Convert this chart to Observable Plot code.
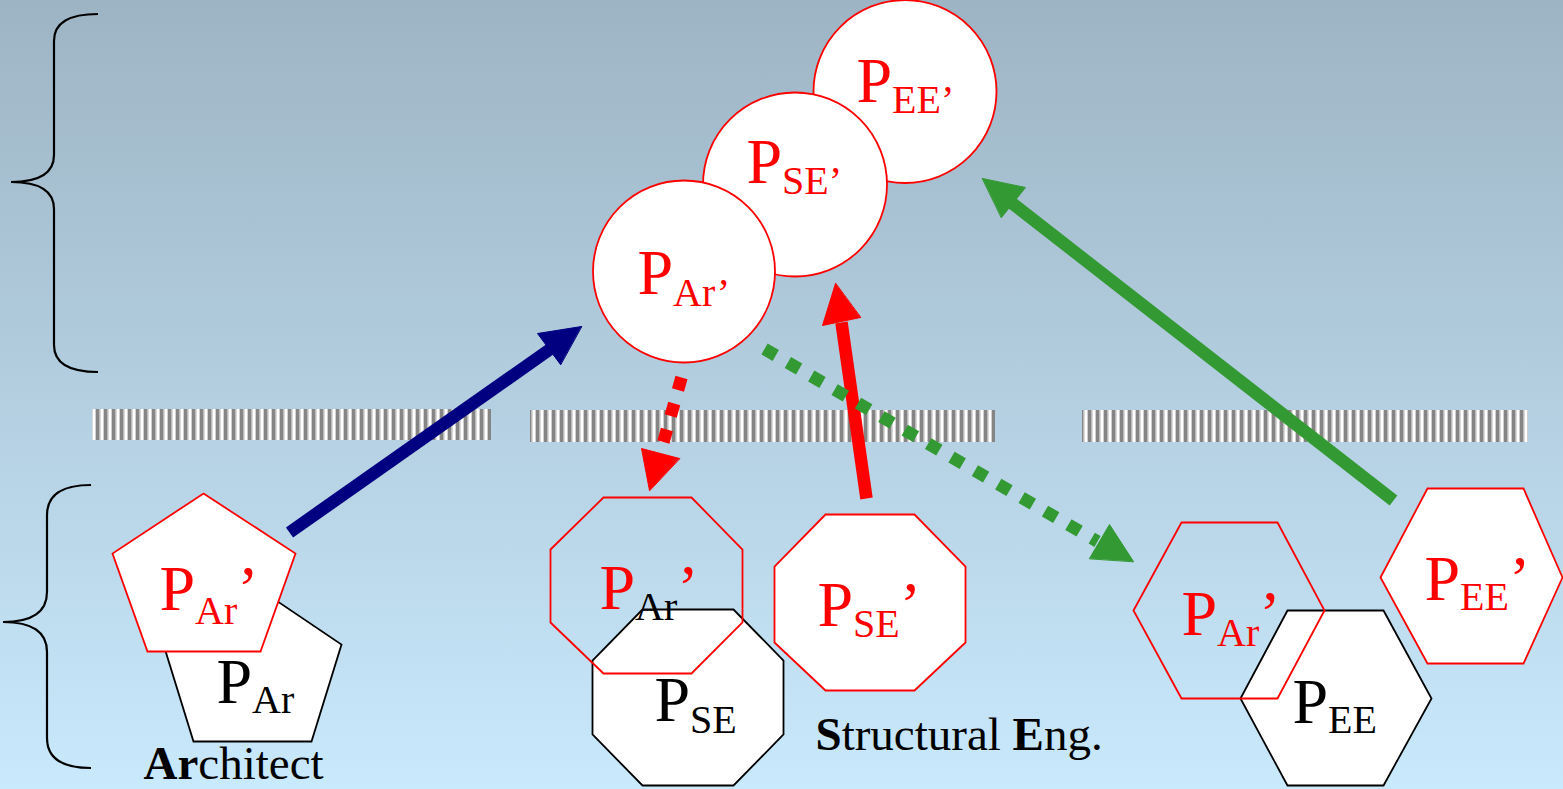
<!DOCTYPE html>
<html><head><meta charset="utf-8">
<script src="https://cdn.jsdelivr.net/npm/d3@7"></script>
<script src="https://cdn.jsdelivr.net/npm/@observablehq/plot@0.6"></script>
<style>html,body{margin:0;padding:0;overflow:hidden;background:#c9e9fc}#chart svg{display:block}</style>
</head><body><div id="chart"></div>
<script>
const W = 1563, H = 789;
const NAVY = "#000080", RED = "#ff0000", GREEN = "#339933";

// striped separator bars
const bars = [
  {x1: 92, x2: 491, y1: 409, y2: 440},
  {x1: 530, x2: 995, y1: 410, y2: 442},
  {x1: 1082, x2: 1528, y1: 410, y2: 442}
];

// upper-level circles (drawn back to front)
const circles = [
  {name: "PEE'", x: 904.5, y: 91, r: 91.5},
  {name: "PSE'", x: 794.5, y: 184, r: 92},
  {name: "PAr'", x: 683.5, y: 271, r: 91}
];

// lower-level polygons (drawn back to front)
const shapes = [
  {id: "pentBlack", stroke: "black", fill: "white", pts: [[252,584],[341,644],[311,741],[193,741],[163,644]]},
  {id: "pentRed", stroke: RED, fill: "white", pts: [[203,493],[295,553],[260,651],[147,651],[112,553]]},
  {id: "octBlack", stroke: "black", fill: "white", pts: [[642,609],[733,609],[783,660],[783,734],[733,785],[642,785],[592,734],[592,660]]},
  {id: "octRedAr", stroke: RED, fill: "none", pts: [[603,497],[691,497],[742,549],[742,622],[691,673],[603,673],[550,622],[550,549]]},
  {id: "octRedSE", stroke: RED, fill: "white", pts: [[825,514],[914,514],[965,566],[965,642],[914,690],[825,690],[774,642],[774,566]]},
  {id: "hexBlack", stroke: "black", fill: "white", pts: [[1240,698],[1287,610],[1383,610],[1431,698],[1383,785],[1287,785]]},
  {id: "hexRedAr", stroke: RED, fill: "none", pts: [[1133,610],[1181,522],[1277,522],[1324,610],[1277,698],[1181,698]]},
  {id: "hexRedEE", stroke: RED, fill: "white", pts: [[1380,577],[1427,488],[1523,488],[1562,577],[1523,663],[1427,663]]}
];

// arrows
const solidArrows = [
  {x1: 289, y1: 532, x2: 552, y2: 347, color: NAVY},
  {x1: 866, y1: 498, x2: 841, y2: 322, color: RED},
  {x1: 1393, y1: 500, x2: 1012, y2: 203, color: GREEN}
];
const dottedArrows = [
  {x1: 681, y1: 377, x2: 660, y2: 452, color: RED},
  {x1: 764, y1: 348.5, x2: 1097, y2: 541, color: GREEN}
];
const heads = [
  {id: "hBlue", color: NAVY, pts: [[581,326],[537,333],[560,364]]},
  {id: "hRed", color: RED, pts: [[835,283],[822,325],[860,317]]},
  {id: "hGreen", color: GREEN, pts: [[982,178],[1025,187],[1001,217]]},
  {id: "hGreenDot", color: GREEN, pts: [[1133,561],[1109,524],[1089,558]]},
  {id: "hRedDot", color: RED, pts: [[649,490],[641,448],[679,458]]}
];

// braces: end x, spine x, tip x, top y, tip y, bottom y, corner size
const braces = [
  {xe: 98, xs: 54, xt: 11, y0: 14, ym: 182, y1: 372, c: 27},
  {xe: 91, xs: 47, xt: 3, y0: 485, ym: 622, y1: 768, c: 30}
];

// text labels: [text, fontSize, baseline shift, color, bold]
const labels = [
  {x: 637, y: 293, parts: [["P",64,0,RED],["Ar\u2019",40,12,RED]]},
  {x: 746, y: 182, parts: [["P",64,0,RED],["SE\u2019",40,11,RED]]},
  {x: 856, y: 101, parts: [["P",64,0,RED],["EE\u2019",40,11,RED]]},
  {x: 159, y: 609, parts: [["P",64,0,RED],["Ar",40,14,RED],["\u2019",64,0,RED]]},
  {x: 216, y: 702, parts: [["P",64,0,"black"],["Ar",40,10,"black"]]},
  {x: 599, y: 608, parts: [["P",64,0,RED],["Ar",40,11,"black"],["\u2019",64,0,RED]]},
  {x: 654, y: 720, parts: [["P",64,0,"black"],["SE",40,12,"black"]]},
  {x: 817, y: 625, parts: [["P",64,0,RED],["SE",40,11,RED],["\u2019",64,0,RED]]},
  {x: 1181, y: 634, parts: [["P",64,0,RED],["Ar",40,11,RED],["\u2019",64,0,RED]]},
  {x: 1292, y: 722, parts: [["P",64,0,"black"],["EE",40,10,"black"]]},
  {x: 1424, y: 599, parts: [["P",64,0,RED],["EE",40,10,RED],["\u2019",64,0,RED]]},
  {x: 143, y: 778, parts: [["Ar",47,0,"black",true],["chitect",47,0,"black"]]},
  {x: 815, y: 749, parts: [["S",47,0,"black",true],["tructural ",47,0,"black"],["E",47,0,"black",true],["ng.",47,0,"black"]]}
];

const FONT = '"Liberation Serif", "Times New Roman", serif';

function layout(labels) {
  const ctx = document.createElement("canvas").getContext("2d");
  const out = [];
  for (const L of labels) {
    let x = L.x;
    for (const [t, size, dy, color, bold] of L.parts) {
      out.push({text: t, x, y: L.y + dy, size, color, bold: !!bold});
      ctx.font = `${bold ? "bold " : ""}${size}px "Liberation Serif"`;
      x += ctx.measureText(t).width;
    }
  }
  return out;
}
const pieces = layout(labels);

const shapePts = shapes.flatMap(s => s.pts.map(([x, y]) => ({id: s.id, x, y, stroke: s.stroke, fill: s.fill})));
const headPts = heads.flatMap(h => h.pts.map(([x, y]) => ({id: h.id, x, y, color: h.color})));

function defsMark() {
  const g = d3.create("svg:g");
  const defs = g.append("defs");
  const lg = defs.append("linearGradient").attr("id", "bgGrad").attr("x1", 0).attr("y1", 0).attr("x2", 0).attr("y2", 1);
  lg.append("stop").attr("offset", "0%").attr("stop-color", "#9db4c4");
  lg.append("stop").attr("offset", "100%").attr("stop-color", "#c9e9fc");
  const p = defs.append("pattern").attr("id", "stripes").attr("patternUnits", "userSpaceOnUse")
    .attr("width", 8).attr("height", 50);
  p.append("rect").attr("x", 0).attr("y", 0).attr("width", 8).attr("height", 50).attr("fill", "#ffffff");
  p.append("rect").attr("x", 0).attr("y", 0).attr("width", 3.5).attr("height", 50).attr("fill", "#858585");
  p.append("rect").attr("x", 3.5).attr("y", 0).attr("width", 1).attr("height", 50).attr("fill", "#b5b5b5");
  p.append("rect").attr("x", 7).attr("y", 0).attr("width", 1).attr("height", 50).attr("fill", "#d0d0d0");
  return g.node();
}

function braceMark(index, scales) {
  const x = scales.x, y = scales.y;
  const g = d3.create("svg:g").attr("fill", "none").attr("stroke", "black").attr("stroke-width", 2.2);
  for (const b of braces) {
    const d = `M${x(b.xe)},${y(b.y0)} Q${x(b.xs)},${y(b.y0)} ${x(b.xs)},${y(b.y0 + b.c)}`
      + ` L${x(b.xs)},${y(b.ym - b.c)} Q${x(b.xs)},${y(b.ym)} ${x(b.xt)},${y(b.ym)}`
      + ` Q${x(b.xs)},${y(b.ym)} ${x(b.xs)},${y(b.ym + b.c)}`
      + ` L${x(b.xs)},${y(b.y1 - b.c)} Q${x(b.xs)},${y(b.y1)} ${x(b.xe)},${y(b.y1)}`;
    g.append("path").attr("d", d);
  }
  return g.node();
}

const plot = Plot.plot({
  width: W, height: H, margin: 0,
  x: {domain: [0, W], range: [0, W], axis: null},
  y: {domain: [0, H], range: [0, H], axis: null},
  r: {type: "identity"},
  color: {type: "identity"},
  style: {background: "transparent", overflow: "hidden"},
  marks: [
    defsMark,
    Plot.rect([0], {x1: 0, x2: W, y1: 0, y2: H, fill: "url(#bgGrad)"}),
    braceMark,
    Plot.rect(bars, {x1: "x1", x2: "x2", y1: "y1", y2: "y2", fill: "url(#stripes)"}),
    Plot.dot(circles, {x: "x", y: "y", r: "r", fill: "white", stroke: RED, strokeWidth: 1.8, sort: null}),
    Plot.line(shapePts, {x: "x", y: "y", z: "id", stroke: "stroke", fill: "fill", strokeWidth: 1.8,
      curve: "linear-closed", strokeLinejoin: "miter", strokeMiterlimit: 10}),
    Plot.link(solidArrows, {x1: "x1", y1: "y1", x2: "x2", y2: "y2", stroke: "color", strokeWidth: 12.5}),
    Plot.link(dottedArrows, {x1: "x1", y1: "y1", x2: "x2", y2: "y2", stroke: "color", strokeWidth: 12.5,
      strokeDasharray: "13,14", strokeLinecap: "butt"}),
    Plot.line(headPts, {x: "x", y: "y", z: "id", fill: "color", stroke: "color", strokeWidth: 1,
      curve: "linear-closed", strokeLinejoin: "miter"}),
    Plot.text(pieces.filter(d => !d.bold), {x: "x", y: "y", text: "text", fontSize: d => d.size, fill: "color",
      textAnchor: "start", lineAnchor: "bottom", fontFamily: FONT}),
    Plot.text(pieces.filter(d => d.bold), {x: "x", y: "y", text: "text", fontSize: d => d.size, fill: "color",
      textAnchor: "start", lineAnchor: "bottom", fontFamily: FONT, fontWeight: "bold"})
  ]
});
document.getElementById("chart").append(plot);
</script></body></html>
